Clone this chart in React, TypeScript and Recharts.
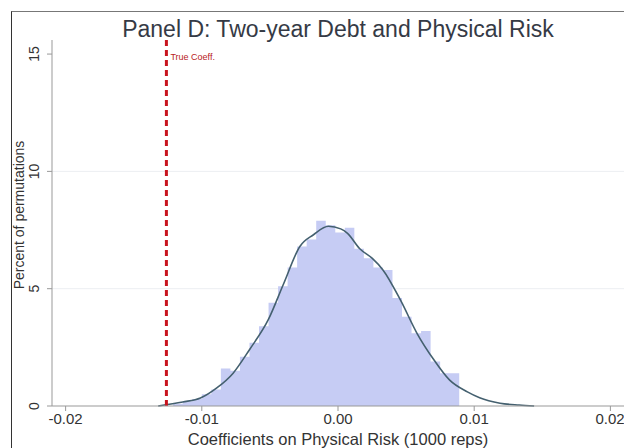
import React from "react";
import {
  ComposedChart,
  Area,
  Line,
  XAxis,
  YAxis,
  CartesianGrid,
  ReferenceLine,
} from "recharts";

// Histogram bins: left edges and percent of permutations in each bin
const binEdges = [
  -0.0121, -0.0114, -0.0107, -0.01, -0.0093, -0.0086, -0.0079, -0.0072,
  -0.0065, -0.0058, -0.0051, -0.0044, -0.0037, -0.003, -0.0023, -0.0016,
  -0.0009, -0.0002, 0.0005, 0.0012, 0.0019, 0.0026, 0.0033, 0.004, 0.0047,
  0.0054, 0.0061, 0.0068, 0.0075, 0.0082, 0.0089,
];
const binPercent = [
  0.1, 0.2, 0.3, 0.5, 0.7, 1.6, 1.5, 2.1, 2.7, 3.4, 4.4, 5.1, 5.9, 6.8, 7.1,
  7.9, 7.7, 7.4, 7.6, 6.7, 6.3, 5.9, 5.8, 4.6, 3.8, 3.1, 3.2, 1.9, 1.4, 1.4,
];

// Kernel density overlay (scaled to percent)
const kdeX = [
  -0.0132, -0.0114, -0.0101, -0.0089, -0.0077, -0.0065, -0.0051, -0.004,
  -0.0028, -0.0018, -0.0007, 0.0002, 0.0007, 0.0016, 0.0025, 0.0033, 0.0046,
  0.0058, 0.007, 0.0082, 0.0095, 0.0104, 0.0119, 0.0133, 0.0144,
];
const kdeY = [
  0, 0.17, 0.34, 0.77, 1.4, 2.4, 3.7, 5.2, 6.8, 7.3, 7.66, 7.55, 7.36, 6.7,
  6.3, 5.8, 4.5, 3.1, 2.0, 1.1, 0.6, 0.35, 0.12, 0.04, 0,
];

const trueCoeff = -0.0126;
const xTicks = [-0.02, -0.01, 0, 0.01, 0.02];
const yTicks = [0, 5, 10, 15];
const gridValues = [5, 10];

// stepAfter needs a closing point at the right edge of the last bin
const histData = binEdges.map((x, i) => ({
  x,
  pct: i < binPercent.length ? binPercent[i] : binPercent[binPercent.length - 1],
}));
const kdeData = kdeX.map((x, i) => ({ x, dens: kdeY[i] }));

const FONT = "'Liberation Sans', Arial, sans-serif";

const YTick = (props: any) => {
  const { x, y, payload } = props;
  return (
    <text
      x={x - 6}
      y={y}
      transform={`rotate(-90, ${x - 6}, ${y})`}
      textAnchor="middle"
      fontSize={14}
      fill="#333"
      fontFamily={FONT}
    >
      {payload.value}
    </text>
  );
};

const XTick = (props: any) => {
  const { x, y, payload } = props;
  return (
    <text
      x={x}
      y={y + 11}
      textAnchor="middle"
      fontSize={15}
      fill="#333"
      fontFamily={FONT}
    >
      {payload.value.toFixed(2)}
    </text>
  );
};

export default function App() {
  return (
    <div
      style={{
        position: "fixed",
        left: 0,
        top: 0,
        width: 624,
        height: 448,
        overflow: "hidden",
        background: "#fff",
      }}
    >
      {/* outer graph frame */}
      <div
        style={{
          position: "absolute",
          left: 11,
          top: 11,
          width: 640,
          height: 460,
          borderLeft: "1.5px solid #333",
          borderTop: "1.5px solid #777",
        }}
      />
      <div
        style={{
          position: "absolute",
          left: 0,
          width: 676,
          top: 16,
          textAlign: "center",
          fontFamily: FONT,
          fontSize: 23,
          color: "#353a45",
        }}
      >
        Panel D: Two-year Debt and Physical Risk
      </div>
      <div
        style={{
          position: "absolute",
          left: 19,
          top: 215,
          transform: "translate(-50%, -50%) rotate(-90deg)",
          whiteSpace: "nowrap",
          fontFamily: FONT,
          fontSize: 14,
          color: "#333",
        }}
      >
        Percent of permutations
      </div>
      <ComposedChart
        width={624}
        height={448}
        margin={{ top: 40, right: 0, bottom: 0, left: 0 }}
        style={{ position: "absolute", left: 0, top: 0 }}
      >
        <CartesianGrid
          vertical={false}
          horizontalValues={gridValues}
          stroke="#eceef2"
        />
        <XAxis
          dataKey="x"
          type="number"
          domain={[-0.021, 0.021]}
          ticks={xTicks}
          allowDataOverflow
          height={42}
          stroke="#999"
          tickSize={5}
          tick={<XTick />}
          label={{
            value: "Coefficients on Physical Risk (1000 reps)",
            position: "insideBottom",
            offset: 3,
            fontSize: 16.5,
            fill: "#333",
            fontFamily: FONT,
          }}
        />
        <YAxis
          type="number"
          domain={[0, 15.6]}
          ticks={yTicks}
          width={52}
          stroke="#999"
          tickSize={5}
          tick={<YTick />}
        />
        <Area
          data={histData}
          dataKey="pct"
          type="stepAfter"
          fill="#c6ccf4"
          fillOpacity={1}
          stroke="none"
          isAnimationActive={false}
        />
        <Line
          data={kdeData}
          dataKey="dens"
          type="monotone"
          stroke="#44606f"
          strokeWidth={1.6}
          dot={false}
          isAnimationActive={false}
        />
        <ReferenceLine
          x={trueCoeff}
          stroke="#c8141e"
          strokeWidth={3}
          strokeDasharray="6 4"
          label={{
            value: "True Coeff.",
            position: "insideTopLeft",
            offset: 4,
            dy: 10,
            fontSize: 9,
            fill: "#b81a24",
            fontFamily: FONT,
          }}
        />
      </ComposedChart>
    </div>
  );
}
